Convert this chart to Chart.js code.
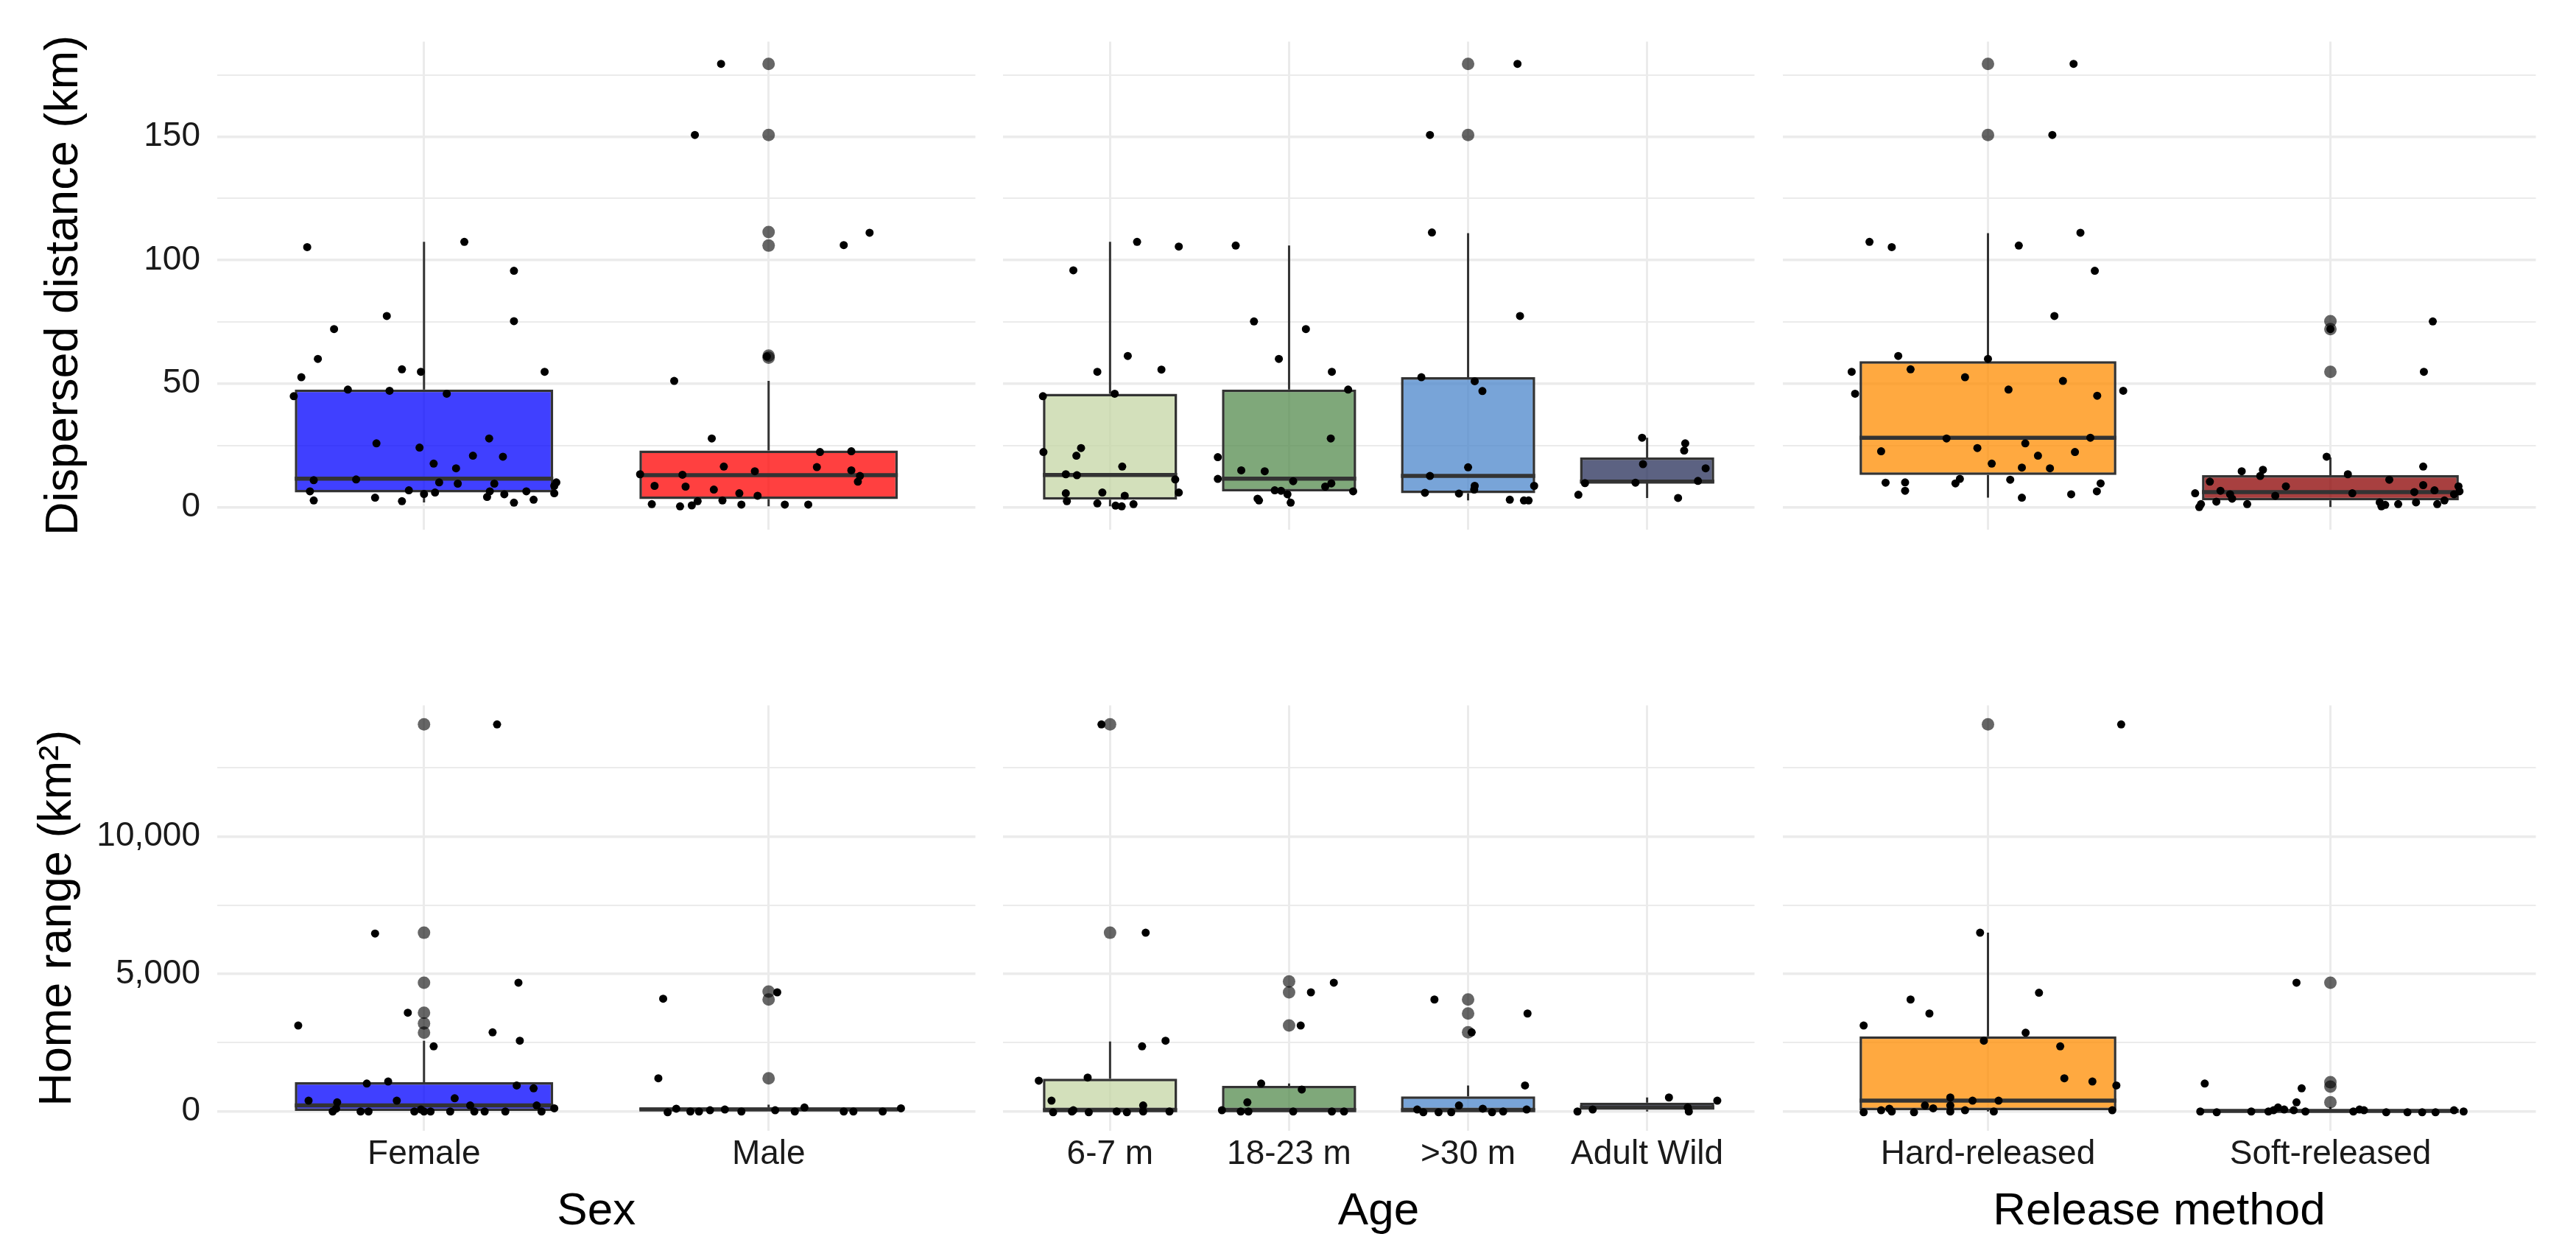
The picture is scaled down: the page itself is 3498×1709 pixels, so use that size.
<!DOCTYPE html>
<html><head><meta charset="utf-8">
<script src="https://cdn.jsdelivr.net/npm/chart.js@4.4.1/dist/chart.umd.min.js"></script>
<style>
html,body{margin:0;padding:0;background:#fff;}
#wrap{position:relative;width:3498px;height:1709px;overflow:hidden;background:#fff;}
#wrap canvas{position:absolute;}
</style></head><body><div id="wrap"></div>
<script>
// ---------- categories ----------
const sexLabels = ['Female', 'Male'];
const ageLabels = ['6-7 m', '18-23 m', '>30 m', 'Adult Wild'];
const releaseLabels = ['Hard-released', 'Soft-released'];
const facetTitles = ['Sex', 'Age', 'Release method'];

// ---------- y ticks ----------
const distanceTicks = [0, 25, 50, 75, 100, 125, 150, 175];
const distanceTickLabels = ['0', '', '50', '', '100', '', '150', ''];
const rangeTicks = [0, 2500, 5000, 7500, 10000, 12500];
const rangeTickLabels = ['0', '', '5,000', '', '10,000', ''];
const distanceAxisRange = [-9, 188.5];
const rangeAxisRange = [-703, 14761];

// ---------- box stats: [lower whisker, Q1, median, Q3, upper whisker] ----------
const distSexStats = [[1.9, 5.9, 11.5, 47.6, 107.4], [0.3, 3.2, 12.9, 22.9, 51.1]];
const distAgeStats = [[0.3, 3.0, 13.0, 45.9, 107.4], [1.8, 6.4, 11.5, 47.6, 105.9], [2.7, 5.6, 12.6, 52.6, 110.9], [3.7, 9.7, 10.3, 20.1, 28.1]];
const distReleaseStats = [[3.8, 13.0, 28.1, 59.1, 110.9], [0, 2.7, 6.1, 12.9, 20.1]];
const rangeSexStats = [[0, 20, 218, 1061, 2573], [0, 0, 73, 145, 250]];
const rangeAgeStats = [[0, 0, 44, 1192, 2544], [0, 0, 44, 930, 1017], [0, 0, 44, 552, 945], [0, 60, 150, 320, 509]];
const rangeReleaseStats = [[0, 44, 392, 2733, 6497], [0, 0, 20, 73, 160]];

// ---------- outliers ----------
const distSexOutliers = [[], [179.5, 150.7, 111.4, 105.9, 61.3, 60.5]];
const distAgeOutliers = [[], [], [179.5, 150.7], []];
const distReleaseOutliers = [[179.5, 150.7], [75.3, 72.1, 54.8]];
const rangeSexOutliers = [[14070, 6497, 4680, 3590, 3198, 2863], [4360, 4070, 1206]];
const rangeAgeOutliers = [[14070, 6497], [4724, 4331, 3125], [4070, 3561, 2878], []];
const rangeReleaseOutliers = [[14070], [4680, 1061, 901, 334]];

// ---------- jittered observations: [horizontal jitter (category units), value] ----------
const distFemalePts = [[-0.339,105.3],[0.117,107.4],[0.261,95.7],[-0.108,77.4],[0.261,75.3],[-0.261,72.1],[-0.308,60.0],[-0.064,55.8],[-0.009,54.8],[0.35,54.8],[-0.356,52.6],[-0.221,47.6],[-0.1,47.1],[0.066,45.9],[-0.378,44.9],[0.189,27.8],[-0.138,25.8],[-0.013,24.1],[0.142,20.8],[0.229,20.4],[0.028,17.6],[0.093,15.7],[-0.197,11.2],[-0.32,10.9],[0.044,10.0],[0.098,9.5],[0.204,9.5],[0.384,10.0],[0.378,8.6],[-0.331,6.4],[-0.044,6.8],[0.032,5.9],[0,5.3],[0.191,6.4],[0.183,4.1],[0.233,5.2],[0.297,6.4],[0.378,5.6],[-0.142,3.8],[-0.32,2.7],[-0.064,2.4],[0.261,1.8],[0.318,3.0]];
const distMalePts = [[-0.138,179.5],[-0.214,150.7],[0.293,111.1],[0.218,106.1],[-0.005,61.0],[-0.274,51.1],[-0.165,27.8],[0.149,22.3],[0.24,22.6],[-0.13,16.4],[0.14,16.2],[-0.04,14.5],[0.24,14.9],[-0.373,13.3],[-0.25,13.1],[0.265,12.6],[0.259,10.3],[-0.331,8.6],[-0.241,8.3],[-0.159,7.1],[-0.085,5.6],[-0.032,4.6],[-0.134,2.7],[-0.206,2.4],[-0.339,1.2],[-0.257,0.3],[-0.223,0.7],[-0.079,1.0],[0.047,1.0],[0.115,1.0]];
const dist67Pts = [[0.151,107.4],[0.384,105.5],[-0.205,95.9],[0.099,61.2],[-0.071,54.8],[0.287,55.7],[-0.375,44.9],[0.026,45.9],[-0.372,22.3],[-0.162,23.9],[-0.188,20.8],[0.068,16.4],[-0.247,13.3],[-0.185,12.9],[0.364,11.2],[0.384,5.9],[-0.247,5.6],[-0.043,5.9],[0.082,4.6],[-0.241,2.4],[-0.071,1.5],[0.031,0.6],[0.065,0.3],[0.131,1.2]];
const dist1823Pts = [[-0.298,105.9],[-0.196,75.2],[0.094,72.1],[-0.057,60.0],[0.239,54.8],[0.33,47.6],[0.233,27.8],[-0.398,20.2],[-0.267,14.9],[-0.136,14.5],[-0.398,11.4],[0.023,10.5],[0.236,9.6],[0.202,8.3],[0.358,6.4],[-0.08,6.8],[-0.045,6.6],[-0.009,5.2],[-0.176,3.4],[-0.168,2.7],[0.009,1.8]];
const dist30Pts = [[0.276,179.5],[-0.213,150.7],[-0.202,111.2],[0.29,77.4],[-0.261,52.6],[0.037,51.0],[0.08,47.0],[0,16.1],[-0.213,12.6],[0.369,8.6],[0.037,8.6],[0.034,7.1],[-0.241,5.8],[-0.051,5.5],[0.233,3.0],[0.312,2.7],[0.338,2.7]];
const distWildPts = [[-0.028,28.1],[0.213,25.8],[0.207,22.9],[-0.023,17.4],[0.327,15.7],[0.284,10.6],[-0.347,9.7],[-0.065,9.9],[-0.384,5.0],[0.173,3.7]];
const distHardPts = [[0.25,179.5],[0.188,150.7],[0.27,111.1],[-0.346,107.4],[-0.281,105.3],[0.09,105.9],[0.312,95.7],[0.194,77.4],[-0.262,61.2],[0,60.0],[-0.398,54.8],[-0.226,55.8],[-0.067,52.6],[0.219,51.1],[0.06,47.6],[-0.388,45.9],[0.319,45.1],[0.395,47.1],[-0.121,27.8],[0.299,28.1],[0.109,25.8],[-0.312,22.6],[-0.031,23.9],[0.254,22.3],[0.146,20.8],[0.011,17.6],[0.099,16.0],[0.181,15.7],[-0.299,9.9],[-0.242,10.0],[-0.242,6.6],[-0.095,9.6],[-0.082,11.4],[0.065,11.1],[0.329,9.6],[0.318,6.4],[0.243,5.2],[0.099,3.8]];
const distSoftPts = [[0.299,75.2],[0,72.1],[0.273,54.8],[-0.011,20.4],[0.271,16.4],[-0.259,14.5],[-0.197,15.1],[-0.205,12.6],[0.051,13.3],[-0.352,10.3],[-0.13,8.4],[0.172,11.1],[0.271,8.9],[0.304,6.8],[0.374,8.4],[0.377,6.4],[-0.321,6.6],[-0.293,5.2],[0.064,5.6],[-0.161,4.6],[0.245,6.1],[0.361,5.2],[-0.395,5.6],[-0.287,3.4],[-0.333,2.2],[-0.378,1.2],[-0.383,0],[-0.243,1.2],[0.144,1.9],[0.16,0.9],[0.198,1.2],[0.25,1.9],[0.312,1.2],[0.333,2.7],[0.149,0.3]];

const rangeFemalePts = [[0.212,14070],[-0.142,6468],[0.274,4680],[-0.047,3590],[-0.365,3125],[0.199,2878],[0.278,2573],[0.028,2369],[-0.166,1017],[-0.104,1090],[0.269,945],[0.318,843],[-0.335,392],[-0.079,392],[0.089,480],[-0.252,334],[0.134,218],[0.327,218],[0.378,116],[-0.265,0],[-0.184,0],[-0.161,0],[-0.028,0],[0,0],[0.019,0],[0.076,0],[0.146,0],[0.176,0],[0.236,0],[0.341,0],[-0.255,102],[-0.009,72]];
const rangeMalePts = [[0.025,4331],[-0.306,4099],[-0.32,1206],[-0.293,-29],[-0.268,102],[-0.227,0],[-0.202,0],[-0.17,44],[-0.127,73],[-0.079,0],[0.019,44],[0.076,0],[0.104,145],[0.218,0],[0.246,0],[0.331,0],[0.384,116]];
const range67Pts = [[-0.048,14070],[0.199,6497],[0.31,2573],[0.179,2369],[-0.125,1235],[-0.398,1119],[-0.327,392],[0.185,218],[-0.318,-29],[-0.205,44],[-0.119,-29],[0.037,0],[0.094,-29],[0.185,0],[0.332,0],[-0.213,0]];
const range1823Pts = [[0.25,4680],[0.122,4331],[0.065,3125],[-0.156,1017],[0.071,799],[-0.233,334],[-0.375,44],[-0.27,0],[-0.227,0],[0.023,0],[0.239,0],[0.307,0]];
const range30Pts = [[-0.188,4070],[0.332,3561],[0.02,2878],[0.318,945],[-0.051,218],[-0.284,73],[-0.25,-29],[-0.165,-29],[-0.094,-29],[0.082,102],[0.134,-29],[0.196,0],[0.327,73]];
const rangeWildPts = [[0.122,509],[0.392,392],[0.227,145],[0.233,0],[-0.389,0],[-0.304,73]];
const rangeHardPts = [[0.389,14070],[-0.023,6497],[-0.226,4070],[0.149,4317],[-0.171,3561],[-0.363,3125],[0.11,2863],[-0.012,2573],[0.211,2369],[0.223,1206],[0.305,1090],[0.375,945],[-0.11,509],[-0.045,392],[0.031,392],[-0.184,218],[-0.16,116],[-0.11,218],[-0.11,0],[-0.363,-29],[-0.312,44],[-0.288,102],[-0.281,0],[-0.216,-29],[-0.067,44],[0.017,0],[0.363,44]];
const rangeSoftPts = [[-0.099,4680],[-0.367,1017],[-0.084,843],[-0.099,334],[-0.38,0],[-0.332,-29],[-0.231,0],[-0.181,0],[-0.166,44],[-0.153,145],[-0.135,73],[-0.107,44],[-0.073,0],[0.067,0],[0.085,73],[0.098,44],[0.163,-29],[0.225,-29],[0.268,-29],[0.307,-29],[0.361,44],[0.389,0]];

// ---------- styles ----------
const sexColors = ['rgba(0,0,255,0.75)', 'rgba(255,0,0,0.75)'];
const ageColors = ['rgba(196,213,164,0.75)', 'rgba(84,139,77,0.75)', 'rgba(75,133,203,0.75)', 'rgba(37,45,88,0.75)'];
const releaseColors = ['rgba(255,140,0,0.75)', 'rgba(139,0,0,0.75)'];
const BOX_WIDTH = 0.75;
const GRID = '#EBEBEB';
const LINE = '#333333';

Chart.defaults.font.family = "'Liberation Sans', Arial, Helvetica, sans-serif";
Chart.defaults.color = '#1a1a1a';

function makePanel(cfg) {
  const c = document.createElement('canvas');
  c.width = cfg.w; c.height = cfg.h;
  c.style.left = cfg.x + 'px'; c.style.top = cfg.y + 'px';
  c.style.width = cfg.w + 'px'; c.style.height = cfg.h + 'px';
  document.getElementById('wrap').appendChild(c);
  const n = cfg.labels.length;
  const half = BOX_WIDTH / 2;
  const boxData = cfg.stats.map((s, i) => ({x: i + 1, y: [s[1], s[3]]}));
  const medData = [], whiskData = [], outData = [], ptData = [];
  cfg.stats.forEach((s, i) => {
    medData.push({x: i + 1 - half, y: s[2]}, {x: i + 1 + half, y: s[2]}, {x: i + 1, y: null});
    whiskData.push({x: i + 1, y: s[3]}, {x: i + 1, y: s[4]}, {x: i + 1, y: null},
                   {x: i + 1, y: s[1]}, {x: i + 1, y: s[0]}, {x: i + 1, y: null});
  });
  cfg.outliers.forEach((arr, i) => arr.forEach(v => outData.push({x: i + 1, y: v})));
  cfg.points.forEach((arr, i) => arr.forEach(p => ptData.push({x: i + 1 + p[0], y: p[1]})));
  const major = cfg.yTickLabels.map(l => l !== '');
  new Chart(c, {
    type: 'bar',
    data: {
      datasets: [
        {type: 'scatter', data: ptData, order: 0, pointRadius: 5.5, pointHoverRadius: 5.5,
         backgroundColor: '#000', borderWidth: 0},
        {type: 'scatter', data: outData, order: 1, pointRadius: 8.5, pointHoverRadius: 8.5,
         backgroundColor: 'rgba(0,0,0,0.6)', borderWidth: 0},
        {type: 'line', data: medData, order: 2, borderColor: LINE, borderWidth: 5.5,
         pointRadius: 0, spanGaps: false, fill: false, borderCapStyle: 'butt'},
        {type: 'bar', data: boxData, order: 3, backgroundColor: cfg.colors, borderColor: LINE,
         borderWidth: 3.5, borderSkipped: false, barPercentage: BOX_WIDTH, categoryPercentage: 1},
        {type: 'line', data: whiskData, order: 4, borderColor: LINE, borderWidth: 3,
         pointRadius: 0, spanGaps: false, fill: false}
      ]
    },
    options: {
      responsive: false, animation: false, devicePixelRatio: 1,
      layout: {padding: 0},
      plugins: {legend: {display: false}, tooltip: {enabled: false}},
      scales: {
        x: {
          type: 'linear', min: 0.4, max: n + 0.6, offset: false,
          afterBuildTicks: s => { s.ticks = cfg.labels.map((_, i) => ({value: i + 1})); },
          afterFit: s => { s.height = cfg.xAxisH; s.paddingLeft = 0; s.paddingRight = 0; },
          grid: {color: GRID, lineWidth: 3, drawTicks: false, offset: false},
          border: {display: false},
          ticks: {display: cfg.showX, autoSkip: false, maxRotation: 0, minRotation: 0, padding: 5,
                  font: {size: 46}, color: '#1a1a1a',
                  callback: (v, i) => cfg.labels[i]},
          title: {display: cfg.showX, text: cfg.xTitle, font: {size: 62}, color: '#000',
                  padding: {top: 0, bottom: 27}}
        },
        y: {
          type: 'linear', min: cfg.yRange[0], max: cfg.yRange[1], offset: false,
          afterBuildTicks: s => { s.ticks = cfg.yTicks.map(v => ({value: v})); },
          afterFit: s => { s.width = cfg.yAxisW; s.paddingTop = 0; s.paddingBottom = 0; },
          grid: {color: GRID, drawTicks: false, offset: false,
                 lineWidth: ctx => (major[ctx.index] ? 3.5 : 2)},
          border: {display: false},
          ticks: {display: cfg.showY, padding: 23, font: {size: 46}, color: '#1a1a1a',
                  callback: (v, i) => cfg.yTickLabels[i]},
          title: {display: cfg.showY, text: cfg.yTitle, font: {size: 63}, color: '#000',
                  padding: {top: cfg.yTitlePad || 0, bottom: 0}}
        }
      }
    }
  });
}

const colsX = [{x: 0, w: 1333, yAxisW: 295}, {x: 1353, w: 1038, yAxisW: 0}, {x: 2412, w: 1040, yAxisW: 0}];
const panelLabels = [sexLabels, ageLabels, releaseLabels];
const panelColors = [sexColors, ageColors, releaseColors];
const distStats = [distSexStats, distAgeStats, distReleaseStats];
const distOut = [distSexOutliers, distAgeOutliers, distReleaseOutliers];
const distPts = [[distFemalePts, distMalePts], [dist67Pts, dist1823Pts, dist30Pts, distWildPts], [distHardPts, distSoftPts]];
const rangeStats = [rangeSexStats, rangeAgeStats, rangeReleaseStats];
const rangeOut = [rangeSexOutliers, rangeAgeOutliers, rangeReleaseOutliers];
const rangePts = [[rangeFemalePts, rangeMalePts], [range67Pts, range1823Pts, range30Pts, rangeWildPts], [rangeHardPts, rangeSoftPts]];

for (let k = 0; k < 3; k++) {
  makePanel({
    x: colsX[k].x, y: 48, w: colsX[k].w, h: 679, yAxisW: colsX[k].yAxisW, xAxisH: 0,
    labels: panelLabels[k], colors: panelColors[k], stats: distStats[k], outliers: distOut[k], points: distPts[k],
    yTicks: distanceTicks, yTickLabels: distanceTickLabels, yRange: distanceAxisRange,
    showX: false, showY: k === 0, yTitle: 'Dispersed distance (km)', yTitlePad: 50, xTitle: ''
  });
  makePanel({
    x: colsX[k].x, y: 949, w: colsX[k].w, h: 760, yAxisW: colsX[k].yAxisW, xAxisH: 174,
    labels: panelLabels[k], colors: panelColors[k], stats: rangeStats[k], outliers: rangeOut[k], points: rangePts[k],
    yTicks: rangeTicks, yTickLabels: rangeTickLabels, yRange: rangeAxisRange,
    showX: true, showY: k === 0, yTitle: 'Home range (km²)', yTitlePad: 41, xTitle: facetTitles[k]
  });
}
</script></body></html>
